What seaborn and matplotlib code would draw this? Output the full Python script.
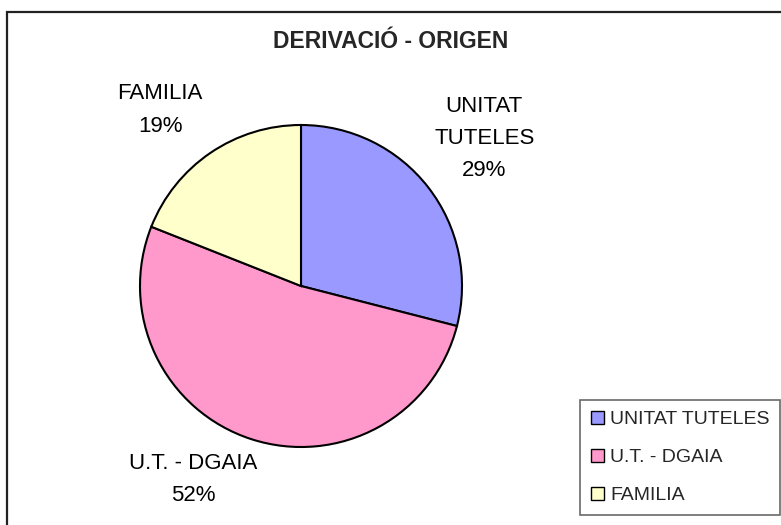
import numpy as np
import matplotlib
matplotlib.use('Agg')
import matplotlib.pyplot as plt
import seaborn as sns
from matplotlib.patches import Rectangle

# Dades del gràfic
categories = ['UNITAT TUTELES', 'U.T. - DGAIA', 'FAMILIA']
pie_labels = ['UNITAT\nTUTELES', 'U.T. - DGAIA', 'FAMILIA']
percentages = [29, 52, 19]
colors = ['#9999FF', '#FF99CC', '#FFFFCC']

sns.set_style("white")
plt.rcParams['font.family'] = ['Liberation Sans', 'DejaVu Sans']

W, H = 781, 525
fig = plt.figure(figsize=(W / 100, H / 100), dpi=100)

# pie centre in pixels and radius
cx, cy, r = 301, 286, 161
lim = 1.6
size = 2 * lim * r
ax = fig.add_axes([(cx - size / 2) / W, (H - cy - size / 2) / H, size / W, size / H])

wedges, texts = ax.pie(percentages, colors=colors, startangle=90, counterclock=False,
                       radius=1, wedgeprops=dict(edgecolor='black', linewidth=1.5))
ax.set_xlim(-lim, lim)
ax.set_ylim(-lim, lim)
ax.set_aspect('equal')
ax.axis('off')

# posició de les etiquetes (distància, angle) estil Excel
label_pos = [(1.46, 38.8), (1.376, 241), (1.40, 128.7)]
for lab, pct, (d, ang) in zip(pie_labels, percentages, label_pos):
    a = np.deg2rad(ang)
    ax.text(d * np.cos(a), d * np.sin(a), f'{lab}\n{pct}%', ha='center', va='center',
            fontsize=16, linespacing=1.7, color='black')

fig.text(0.5, 1 - 42 / H, 'DERIVACIÓ - ORIGEN', ha='center', va='center',
         fontsize=16.5, fontweight='bold')

# marc del gràfic
fig.patches.append(Rectangle((7.5 / W, -0.1), 1.2, 1.1 - 12.5 / H, transform=fig.transFigure,
                             fill=False, edgecolor='#222222', linewidth=1.6))

handles = [plt.Rectangle((0, 0), 1, 1, facecolor=c, edgecolor='black', linewidth=1) for c in colors]
leg = fig.legend(handles, categories, loc='lower left',
                 bbox_to_anchor=(580 / W, 1 - 515 / H), fontsize=14,
                 frameon=True, fancybox=False, handlelength=0.7, handleheight=0.7,
                 handletextpad=0.3, labelspacing=1.05, borderpad=0.55, borderaxespad=0)
leg.get_frame().set_edgecolor('#444444')
leg.get_frame().set_linewidth(1.2)

fig.savefig('out.png', dpi=100)
